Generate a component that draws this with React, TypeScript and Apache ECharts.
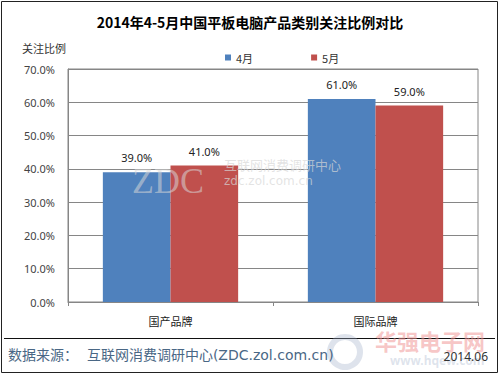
import React, { useEffect, useRef } from "react";
import * as echarts from "echarts";

const categories = ["国产品牌", "国际品牌"];
const seriesNames = ["4月", "5月"];
const aprilValues = [39.0, 61.0];
const mayValues = [41.0, 59.0];
const yTicks = [0, 10, 20, 30, 40, 50, 60, 70];

const BLUE = "#4f81bd";
const RED = "#c0504d";
const FONT = "'Noto Sans', 'Noto Sans CJK SC', sans-serif";
const WIDE = "'DejaVu Sans', 'Noto Sans CJK SC', sans-serif";
const CJK = "'Noto Sans CJK SC', sans-serif";

export default function App() {
  const ref = useRef<HTMLDivElement>(null);
  useEffect(() => {
    if (!ref.current) return;
    document.body.style.margin = "0";
    const chart = echarts.init(ref.current, null, { renderer: "svg" });
    const labelCfg = {
      show: true,
      position: "top" as const,
      distance: 9,
      color: "#222",
      fontSize: 11,
      fontFamily: FONT,
      formatter: (p: any) => p.value.toFixed(1) + "%",
    };
    chart.setOption({
      animation: false,
      backgroundColor: "#fff",
      title: {
        text: "2014年4-5月中国平板电脑产品类别关注比例对比",
        left: "center",
        top: 10,
        textStyle: { fontSize: 14, fontWeight: "bold", color: "#000", fontFamily: CJK },
      },
      legend: {
        data: seriesNames,
        top: 47,
        left: 220,
        itemWidth: 6,
        itemHeight: 6,
        itemGap: 58,
        icon: "rect",
        textStyle: { fontSize: 11, color: "#333", fontFamily: CJK },
      },
      grid: {
        left: 68,
        right: 22,
        top: 69,
        bottom: 73,
        show: true,
        borderColor: "#868686",
        borderWidth: 1,
      },
      xAxis: {
        type: "category",
        data: categories,
        axisLine: { lineStyle: { color: "#868686" } },
        axisTick: { show: true, length: 4, lineStyle: { color: "#868686" } },
        axisLabel: { fontSize: 11, color: "#222", fontFamily: CJK, margin: 13 },
      },
      yAxis: {
        type: "value",
        min: yTicks[0],
        max: yTicks[yTicks.length - 1],
        interval: 10,
        axisLine: { show: true, lineStyle: { color: "#868686" } },
        axisTick: { show: false },
        splitLine: { lineStyle: { color: "#868686" } },
        axisLabel: {
          fontSize: 11,
          color: "#444",
          fontFamily: FONT,
          margin: 13,
          formatter: (v: number) => v.toFixed(1) + "%",
        },
      },
      series: [
        {
          name: seriesNames[0],
          type: "bar",
          data: aprilValues,
          barWidth: "33%",
          barGap: "0%",
          itemStyle: { color: BLUE },
          label: labelCfg,
        },
        {
          name: seriesNames[1],
          type: "bar",
          data: mayValues,
          barWidth: "33%",
          barGap: "0%",
          itemStyle: { color: RED },
          label: labelCfg,
        },
      ],
      graphic: [
        {
          type: "rect",
          shape: { x: 1.5, y: 1.5, width: 496, height: 371 },
          style: { fill: "none", stroke: "#222", lineWidth: 1 },
          silent: true,
        },
        {
          type: "text",
          x: 22,
          y: 42,
          style: { text: "关注比例", fontSize: 11, fill: "#333", fontFamily: CJK },
        },
        {
          type: "text",
          x: 132,
          y: 163,
          z: 100,
          style: { text: "ZDC", fontSize: 36, fill: "rgba(215,215,215,0.55)", fontFamily: "'Liberation Serif', serif" },
        },
        {
          type: "text",
          x: 224,
          y: 158,
          z: 100,
          style: { text: "互联网消费调研中心", fontSize: 13, fill: "rgba(215,215,215,0.7)", fontFamily: CJK },
        },
        {
          type: "text",
          x: 224,
          y: 175,
          z: 100,
          style: { text: "zdc.zol.com.cn", fontSize: 12, fill: "rgba(215,215,215,0.7)", fontFamily: WIDE },
        },
        {
          type: "line",
          shape: { x1: 4, y1: 338.5, x2: 495, y2: 338.5 },
          style: { stroke: "#111", lineWidth: 1 },
        },
        {
          type: "ring",
          shape: { cx: 345, cy: 352, r: 18, r0: 12 },
          style: { fill: "rgba(160,175,200,0.35)" },
        },
        {
          type: "text",
          x: 375,
          y: 329,
          style: { text: "华强电子网", fontSize: 22, fontWeight: "bold", fill: "rgba(240,150,150,0.55)", fontFamily: CJK },
        },
        {
          type: "text",
          x: 390,
          y: 354,
          style: { text: "www.hqew.com", fontSize: 12, fontWeight: "bold", fill: "rgba(160,175,200,0.35)", fontFamily: FONT },
        },
        {
          type: "text",
          x: 8,
          y: 348,
          style: {
            text: "数据来源：  互联网消费调研中心(ZDC.zol.com.cn)",
            fontSize: 14,
            fill: "#4a6785",
            fontFamily: WIDE,
          },
        },
        {
          type: "text",
          x: 488,
          y: 350,
          style: { text: "2014.06", fontSize: 12, fill: "#333", fontFamily: FONT, align: "right" },
        },
      ],
    });
    return () => chart.dispose();
  }, []);
  return <div ref={ref} style={{ width: 500, height: 375 }} />;
}

const _unused = React;
